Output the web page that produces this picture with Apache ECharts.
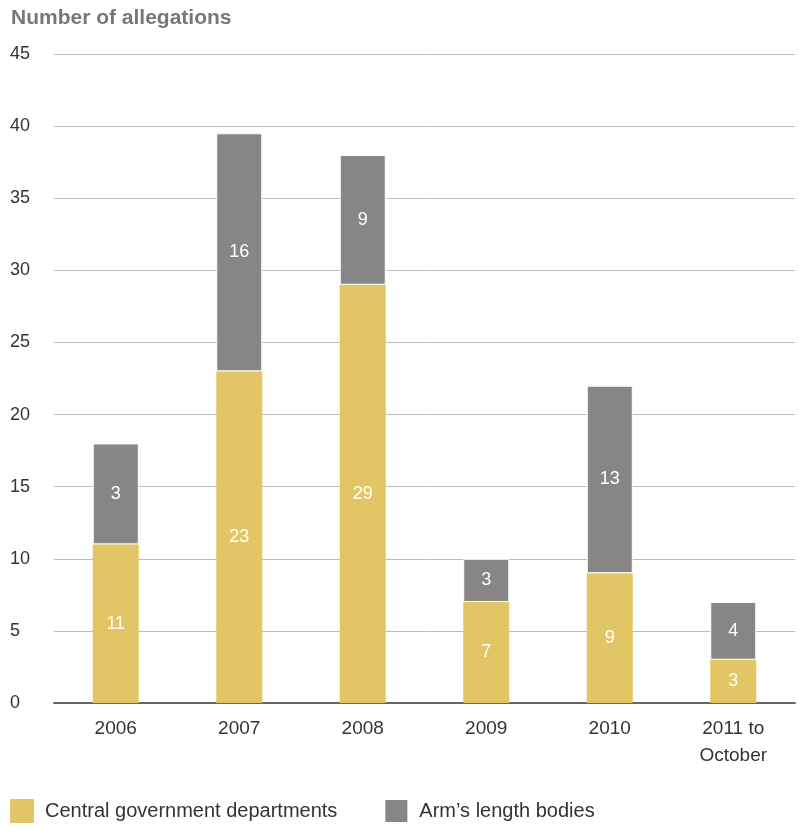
<!DOCTYPE html>
<html>
<head>
<meta charset="utf-8">
<script src="https://cdn.jsdelivr.net/npm/echarts@6/dist/echarts.min.js"></script>
<style>
  html, body { margin: 0; padding: 0; background: #fff; }
  #chart { width: 799px; height: 827px; }
</style>
</head>
<body>
<div id="chart"></div>
<script>
const years = ['2006', '2007', '2008', '2009', '2010', '2011 to\nOctober'];
// bar heights as drawn
const centralGov = [11, 23, 29, 7, 9, 3];
const armsLength = [7, 16.5, 9, 3, 13, 4];
// numbers printed on the bars
const centralLabels = ['11', '23', '29', '7', '9', '3'];
const armsLabels = ['3', '16', '9', '3', '13', '4'];

const chart = echarts.init(document.getElementById('chart'));
const font = 'Liberation Sans, Helvetica, Arial, sans-serif';

const option = {
  textStyle: { fontFamily: font },
  title: {
    text: 'Number of allegations',
    left: 6,
    top: 3,
    textStyle: { fontSize: 21, fontWeight: 'bold', color: '#777', fontFamily: font }
  },
  grid: { left: 54, right: 4, top: 54, bottom: 124 },
  xAxis: {
    type: 'category',
    data: years,
    axisTick: { show: false },
    axisLine: { lineStyle: { color: '#666', width: 2 } },
    axisLabel: { color: '#333', fontSize: 19, margin: 12, lineHeight: 27, fontFamily: font }
  },
  yAxis: {
    type: 'value',
    min: 0,
    max: 45,
    interval: 5,
    axisLine: { show: false },
    axisTick: { show: false },
    splitLine: { lineStyle: { color: '#bdbdbd', width: 1 } },
    axisLabel: { color: '#333', fontSize: 18, align: 'left', margin: 44, fontFamily: font }
  },
  legend: {
    left: 5,
    bottom: -2,
    itemWidth: 24,
    itemHeight: 24,
    itemGap: 46,
    icon: 'rect',
    textStyle: { fontSize: 20, color: '#333', padding: [0, 0, 0, 6], fontFamily: font },
    data: ['Central government departments', "Arm\u2019s length bodies"]
  },
  series: [
    {
      name: 'Central government departments',
      type: 'bar',
      stack: 'total',
      barWidth: 46,
      data: centralGov,
      itemStyle: { color: '#E2C666' },
      label: {
        show: true,
        position: 'inside',
        color: '#fff',
        fontSize: 18,
        fontFamily: font,
        formatter: (p) => centralLabels[p.dataIndex]
      }
    },
    {
      name: "Arm\u2019s length bodies",
      type: 'bar',
      stack: 'total',
      barWidth: 46,
      data: armsLength,
      itemStyle: { color: '#878684', borderColor: '#fff', borderWidth: 1 },
      label: {
        show: true,
        position: 'inside',
        color: '#fff',
        fontSize: 18,
        fontFamily: font,
        formatter: (p) => armsLabels[p.dataIndex]
      }
    }
  ]
};

chart.setOption(option);
</script>
</body>
</html>
